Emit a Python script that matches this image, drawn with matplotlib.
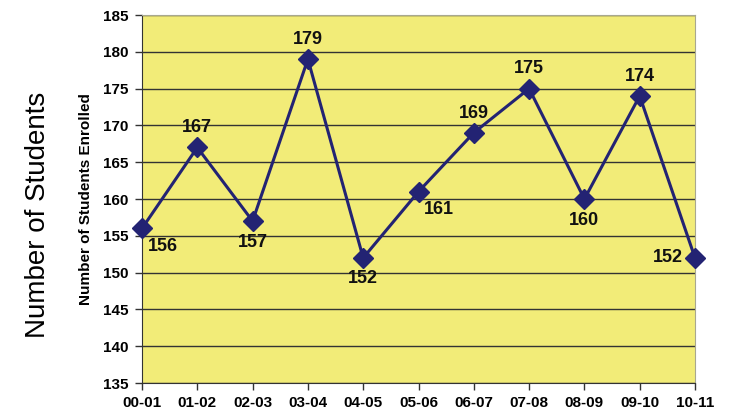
import matplotlib.pyplot as plt

# data
years = ["00-01", "01-02", "02-03", "03-04", "04-05", "05-06",
         "06-07", "07-08", "08-09", "09-10", "10-11"]
students = [156, 167, 157, 179, 152, 161, 169, 175, 160, 174, 152]
# where each value label sits relative to its marker
label_pos = ["br", "t", "b", "t", "b", "br", "t", "t", "b", "t", "l"]

plt.rcParams["font.family"] = ["Liberation Sans", "DejaVu Sans"]

fig = plt.figure(figsize=(7.3, 4.11), dpi=100)
ax = fig.add_axes([142 / 730, 1 - 383 / 411, (695 - 142) / 730, (383 - 15) / 411])
ax.set_facecolor("#F2EC78")

x = list(range(len(years)))
ax.plot(x, students, color="#232373", lw=2.2, marker="D", ms=10.5,
        markerfacecolor="#232373", markeredgecolor="#232373", zorder=3, clip_on=False)

offsets = {"t": (0, 8, "center", "bottom"), "b": (0, -9, "center", "top"),
           "br": (15, -7, "center", "top"), "l": (-9, 0, "right", "center")}
for xi, v, p in zip(x, students, label_pos):
    dx, dy, ha, va = offsets[p]
    ax.annotate(str(v), (xi, v), xytext=(dx, dy), textcoords="offset points",
                ha=ha, va=va, fontsize=13, fontweight="bold", color="#111111")

ax.set_xlim(0, 10)
ax.set_ylim(135, 185)
ax.set_yticks(range(135, 186, 5))
ax.set_xticks(x)
ax.set_xticklabels(years)
ax.yaxis.grid(True, color="#333333", lw=1)
ax.set_axisbelow(True)
ax.tick_params(axis="both", direction="out", length=5, width=1, color="#333333",
               labelsize=11)
for lab in ax.get_xticklabels() + ax.get_yticklabels():
    lab.set_fontweight("bold")
ax.tick_params(axis="x", pad=4)
ax.tick_params(axis="y", pad=5)

ax.spines["left"].set_color("#333333")
ax.spines["bottom"].set_color("#333333")
ax.spines["top"].set_color("#A8A890")
ax.spines["right"].set_color("#A8A890")

ax.set_ylabel("Number of Students Enrolled", fontsize=11, fontweight="bold", labelpad=7)
fig.text(38 / 730, 1 - 215 / 411, "Number of Students", rotation=90,
         ha="center", va="center", fontsize=20,
         family=["Liberation Sans", "DejaVu Sans"])

fig.savefig("out.png", dpi=100)
